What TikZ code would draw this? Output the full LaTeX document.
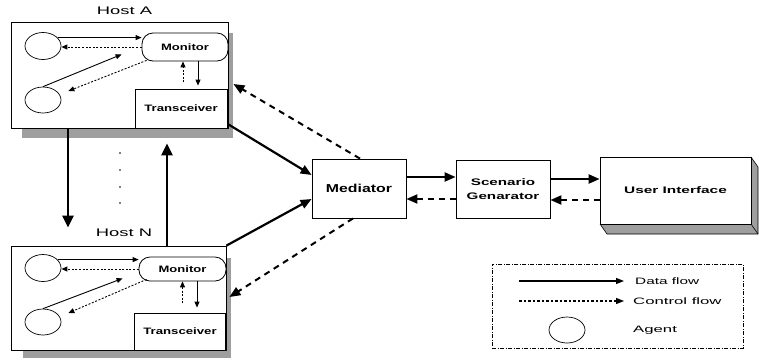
\documentclass[tikz,border=0pt]{standalone}
\usepackage{graphicx}
\usepackage{fontspec}
\setmainfont{Liberation Sans}
\usetikzlibrary{shapes.geometric,arrows.meta,calc}
\newcommand{\hstr}[2]{\scalebox{#1}[1]{#2}}
\tikzset{
  box/.style={draw=black,line width=0.8pt,fill=white,inner sep=0pt},
  hostbox/.style={box},
  monbox/.style={box,rounded corners=11pt,font=\bfseries\fontsize{9.3}{11}\selectfont},
  trbox/.style={box,font=\bfseries\fontsize{9.3}{11}\selectfont},
  bigbox/.style={box,font=\bfseries\fontsize{9.5}{14}\selectfont,align=center},
  agent/.style={draw=black,line width=0.7pt,ellipse,minimum width=36pt,minimum height=27pt,inner sep=0pt},
  shadowfill/.style={fill=black!38,draw=none},
  hostlabel/.style={font=\fontsize{11}{13}\selectfont,inner sep=0pt},
  legtext/.style={font=\fontsize{9.3}{12}\selectfont,inner sep=0pt,anchor=west},
  datathin/.style={line width=0.9pt,-{Triangle[length=6pt,width=5pt]}},
  ctrlthin/.style={line width=0.9pt,dash pattern=on 2pt off 1.6pt,-{Triangle[length=6pt,width=5pt]}},
  datathick/.style={line width=2.6pt,-{Triangle[length=12pt,width=11pt]}},
  datamid/.style={line width=2.2pt,-{Triangle[length=11pt,width=9pt]}},
  ctrlthick/.style={line width=2pt,dash pattern=on 6pt off 5pt,-{Triangle[length=11pt,width=9pt]}},
}
\begin{document}
\begin{tikzpicture}[x=1pt,y=-1pt]
\useasboundingbox (0,0) rectangle (759,360);
% shadows
\fill[shadowfill] (22,33) rectangle (233,138);
\fill[shadowfill] (23,258) rectangle (231,358);
% Host A
\node[hostbox,minimum width=217pt,minimum height=106pt] (hostA) at (119.5,75) {};
\node[hostlabel] (labA) at (124.5,11) {\hstr{1.67}{Host A}};
\node[monbox,minimum width=86pt,minimum height=28pt] (monA) at (185,47) {\hstr{1.4}{Monitor}};
\node[trbox,minimum width=92pt,minimum height=39pt] (trA) at (181,108.5) {\hstr{1.42}{Transceiver}};
\node[agent] (a1) at (43,46) {};
\node[agent,minimum height=26pt] (a2) at (43,100) {};
% Host N
\node[hostbox,minimum width=215pt,minimum height=104pt] (hostN) at (118.5,298) {};
\node[hostlabel] (labN) at (124,233) {\hstr{1.67}{Host N}};
\node[monbox,minimum width=87pt,minimum height=24pt] (monN) at (182.5,269) {\hstr{1.4}{Monitor}};
\node[trbox,minimum width=91pt,minimum height=37pt] (trN) at (180,331.5) {\hstr{1.42}{Transceiver}};
\node[agent] (a3) at (43,268) {};
\node[agent,minimum height=26pt] (a4) at (43,322) {};
% dots
\foreach \yy in {153,170,187,203} \fill (120,\yy) circle (0.9pt);
% Mediator, Scenario generator
\node[bigbox,minimum width=94pt,minimum height=59pt,font=\bfseries\fontsize{11.5}{14}\selectfont] (med) at (359,188.5) {\hstr{1.38}{Mediator}};
\node[bigbox,minimum width=94pt,minimum height=58pt] (sg) at (503,189) {\hstr{1.6}{Scenario}\\\hstr{1.6}{Genarator}};
% User interface 3D box
\fill[shadowfill] (600,224) -- (751,224) -- (758,234) -- (607,234) -- cycle;
\fill[shadowfill] (751,157) -- (758,167) -- (758,234) -- (751,224) -- cycle;
\draw[line width=0.6pt] (600,224) -- (607,234) -- (758,234) -- (758,167) -- (751,157);
\draw[line width=0.6pt] (751,224) -- (758,234);
\node[bigbox,minimum width=151pt,minimum height=67pt] (ui) at (675.5,190.5) {\hstr{1.62}{User Interface}};
% Host A internal
\draw[datathin] (a1.30) -- (a1.30 -| monA.west);
\draw[ctrlthin] (monA.west) -- (monA.west -| a1.east);
\draw[datathin] (a2.north) -- ($(monA.south west)+(-20,-7)$);
\draw[ctrlthin] ($(monA.south west)+(5,-1)$) -- ($(a2.east)+(7,-9)$);
\draw[ctrlthin] ([xshift=-2pt,yshift=-21pt]monA.south) -- ([xshift=-2pt]monA.south);
\draw[datathin] ([xshift=13pt]monA.south) -- ([xshift=17pt,yshift=3pt]trA.north);
% Host N internal
\draw[datathin] (a3.30) -- (a3.30 -| monN.west);
\draw[ctrlthin] (monN.west) -- (monN.west -| a3.east);
\draw[datathin] (a4.north) -- ($(monN.south west)+(-16,-3)$);
\draw[ctrlthin] ($(monN.south west)+(8,-2)$) -- ($(a4.east)+(7,-9)$);
\draw[ctrlthin] ([yshift=-22pt]monN.south) -- (monN.south);
\draw[datathin] ([xshift=14.5pt]monN.south) -- ([xshift=17pt,yshift=5pt]trN.north);
% between hosts
\draw[datathick] ([xshift=-51.5pt]hostA.south) -- ([xshift=-50.5pt,yshift=18pt]hostN.north);
\draw[datathick] ([xshift=48.5pt]hostN.north) -- ([xshift=47.5pt,yshift=-15pt]hostA.south);
% hosts <-> mediator
\draw[datamid] ([yshift=4pt]hostA.south east) -- ([yshift=13.5pt]med.west);
\draw[datamid] (hostN.north east) -- ([yshift=-10.5pt]med.west);
\draw[ctrlthick] ([xshift=1pt]med.north) -- ([xshift=5pt,yshift=-9pt]hostA.east);
\draw[ctrlthick] ([xshift=-6pt]med.south) -- ([xshift=3pt,yshift=1pt]hostN.east);
% mediator <-> SG <-> UI
\draw[datamid] ([yshift=11.5pt]med.east) -- ([yshift=12pt]sg.west);
\draw[ctrlthick] ([yshift=-10pt]sg.west) -- ([yshift=-10.5pt]med.east);
\draw[datamid] ([yshift=10pt]sg.east) -- ([yshift=11.5pt]ui.west);
\draw[ctrlthick] ([yshift=-9.5pt]ui.west) -- ([yshift=-11pt]sg.east);
% legend
\node[draw=black,line width=0.6pt,dash pattern=on 4pt off 1.5pt on 1pt off 1.5pt,minimum width=251pt,minimum height=84pt,inner sep=0pt] (legend) at (617.5,306) {};
\node[legtext] (ldata) at (635,281) {\hstr{1.65}{Data flow}};
\node[legtext] (lctrl) at (633,301) {\hstr{1.8}{Control flow}};
\node[legtext] (lagent) at (633,330) {\hstr{1.8}{Agent}};
\node[agent,minimum height=26pt] (lag) at (567,330) {};
\draw[line width=1.3pt,-{Triangle[length=8pt,width=6pt]}] ([xshift=-116pt]ldata.west) -- ([xshift=-11pt]ldata.west);
\draw[line width=1.1pt,dash pattern=on 2.5pt off 2pt,-{Triangle[length=8pt,width=6pt]}] ([xshift=-114pt]lctrl.west) -- ([xshift=-9pt]lctrl.west);
\end{tikzpicture}
\end{document}
